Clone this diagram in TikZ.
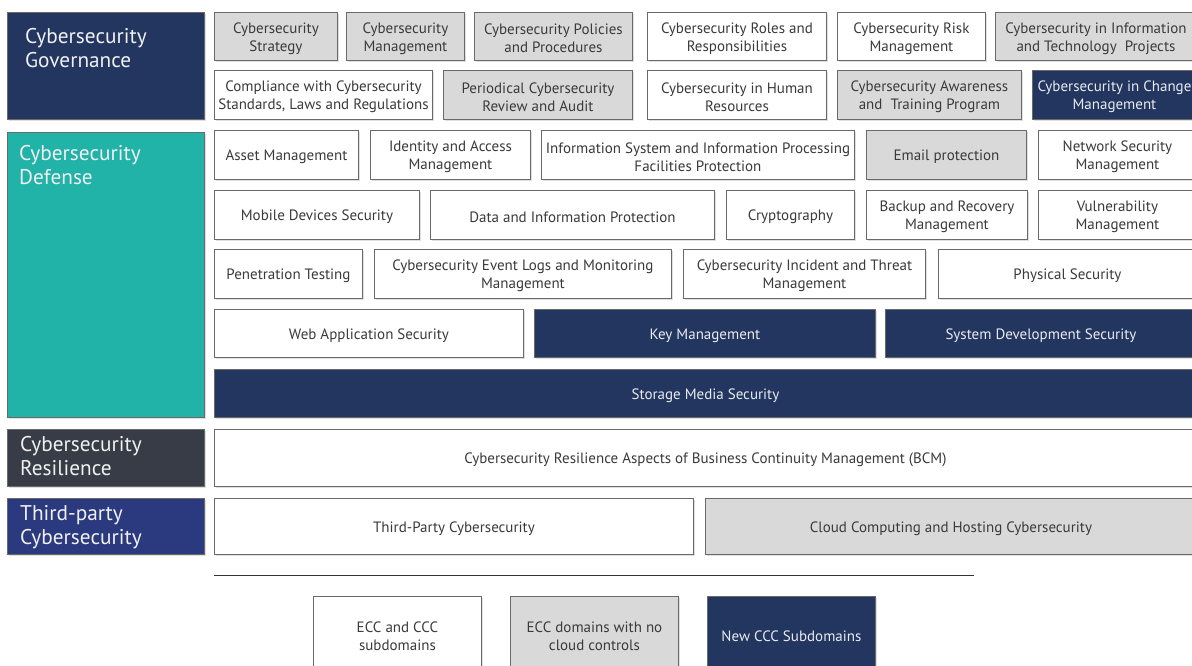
\documentclass[tikz,border=0pt]{standalone}
\usepackage{fontspec}
\setmainfont{PT Sans}
\usetikzlibrary{shadows}

\definecolor{navy}{HTML}{233660}
\definecolor{defteal}{HTML}{21B2A8}
\definecolor{slate}{HTML}{383C47}
\definecolor{royal}{HTML}{2B3A7F}
\definecolor{lgray}{HTML}{D9D9D9}
\definecolor{edge}{HTML}{6A6A6A}
\definecolor{ink}{HTML}{3A3A3A}

\tikzset{
  soft/.style={drop shadow={opacity=0.25, shadow xshift=1.8pt, shadow yshift=-2pt}},
  cell/.style={draw=edge, line width=0.9pt, soft},
  wcell/.style={cell, fill=white},
  gcell/.style={cell, fill=lgray},
  ncell/.style={cell, fill=navy, /tikz/celltext/.append style={text=white!90!navy}},
  celltext/.style={align=center, inner sep=0pt, font=\fontsize{15}{18}\selectfont, text=ink},
  cat/.style={draw=edge, line width=0.9pt, soft},
  cattext/.style={anchor=north west, align=left, text=white!94!black,
    font=\fontsize{21.3}{24.5}\selectfont, inner sep=0pt},
  rule/.style={draw=black!80, line width=0.8pt}
}

% name, style, x1, y1, x2, y2, text  (pixel coordinates, y downwards)
\newcommand\cellbox[7]{%
  \begin{scope}[#2]
  \node[#2, anchor=north west, minimum width={(#5-#3)*1pt},
        minimum height={(#6-#4)*1pt}] (#1) at (#3,#4) {};
  \node[celltext] (#1t) at ([yshift=-2pt]#1.center) {#7};
  \end{scope}}

\begin{document}
\begin{tikzpicture}[x=1pt, y=-1pt]
\useasboundingbox (0,0) rectangle (1192,666);
\clip (0,0) rectangle (1192,666);

% ---- domain headers
\cellbox{gov}{cat, fill=navy}{7}{12}{204}{119}{}
\node[cattext] (govt) at (25,28) {Cybersecurity\\Governance};
\cellbox{def}{cat, fill=defteal}{7}{132}{204}{417}{}
\node[cattext] (deft) at (19,145) {Cybersecurity\\Defense};
\cellbox{res}{cat, fill=slate}{7}{429}{204}{486}{}
\node[cattext] (rest) at (20,436) {Cybersecurity\\Resilience};
\cellbox{tpc}{cat, fill=royal}{7}{498}{204}{554}{}
\node[cattext] (tpct) at (20,505) {Third-party\\Cybersecurity};

% ---- governance
\cellbox{g1}{gcell}{214}{12}{337}{60}{Cybersecurity\\Strategy}
\cellbox{g2}{gcell}{346}{12}{464}{60}{Cybersecurity\\Management}
\cellbox{g3}{gcell}{474}{12}{632}{60}{Cybersecurity Policies\\and Procedures}
\cellbox{g4}{wcell}{647}{12}{826}{60}{Cybersecurity Roles and\\Responsibilities}
\cellbox{g5}{wcell}{837}{12}{985}{60}{Cybersecurity Risk\\Management}
\cellbox{g6}{gcell}{995}{12}{1196}{60}{Cybersecurity in Information\\and Technology\ \ Projects}
\cellbox{g7}{wcell}{214}{70}{432}{119}{Compliance with Cybersecurity\\Standards, Laws and Regulations}
\cellbox{g8}{gcell}{443}{70}{632}{119}{Periodical Cybersecurity\\Review and Audit}
\cellbox{g9}{wcell}{647}{70}{826}{119}{Cybersecurity in Human\\Resources}
\cellbox{g10}{gcell}{837}{70}{1021}{119}{Cybersecurity Awareness\\and\ \ Training Program}
\cellbox{g11}{ncell}{1032}{70}{1196}{119}{Cybersecurity in Change\\Management}

% ---- defense
\cellbox{d1}{wcell}{214}{130}{358}{179}{Asset Management}
\cellbox{d2}{wcell}{370}{130}{530}{179}{Identity and Access\\Management}
\cellbox{d3}{wcell}{541}{130}{854}{179}{Information System and Information Processing\\Facilities Protection}
\cellbox{d4}{gcell}{866}{130}{1026}{179}{Email protection}
\cellbox{d5}{wcell}{1038}{130}{1196}{179}{Network Security\\Management}
\cellbox{d6}{wcell}{214}{190}{419}{239}{Mobile Devices Security}
\cellbox{d7}{wcell}{430}{190}{714}{239}{Data and Information Protection}
\cellbox{d8}{wcell}{726}{190}{854}{239}{Cryptography}
\cellbox{d9}{wcell}{866}{190}{1027}{239}{Backup and Recovery\\Management}
\cellbox{d10}{wcell}{1038}{190}{1196}{239}{Vulnerability\\Management}
\cellbox{d11}{wcell}{214}{249}{362}{298}{Penetration Testing}
\cellbox{d12}{wcell}{374}{249}{671}{298}{Cybersecurity Event Logs and Monitoring\\Management}
\cellbox{d13}{wcell}{683}{249}{925}{298}{Cybersecurity Incident and Threat\\Management}
\cellbox{d14}{wcell}{938}{249}{1196}{298}{Physical Security}
\cellbox{d15}{wcell}{214}{309}{523}{357}{Web Application Security}
\cellbox{d16}{ncell}{534}{309}{875}{357}{Key Management}
\cellbox{d17}{ncell}{885}{309}{1196}{357}{System Development Security}
\cellbox{d18}{ncell}{214}{369}{1196}{417}{Storage Media Security}

% ---- resilience
\cellbox{r1}{wcell}{214}{429}{1196}{486}{Cybersecurity Resilience Aspects of Business Continuity Management (BCM)}

% ---- third party
\cellbox{t1}{wcell}{214}{498}{693}{554}{Third-Party Cybersecurity}
\cellbox{t2}{gcell}{705}{498}{1196}{554}{Cloud Computing and Hosting Cybersecurity}

% ---- separator and key
\coordinate (sepl) at (214,575);
\coordinate (sepr) at (974,575);
\draw[rule] (sepl) -- (sepr);
\cellbox{k1}{wcell}{313}{596}{481}{672}{ECC and CCC\\subdomains}
\cellbox{k2}{gcell}{510}{596}{678}{672}{ECC domains with no\\cloud controls}
\cellbox{k3}{ncell}{707}{596}{875}{672}{New CCC Subdomains}
\end{tikzpicture}
\end{document}
